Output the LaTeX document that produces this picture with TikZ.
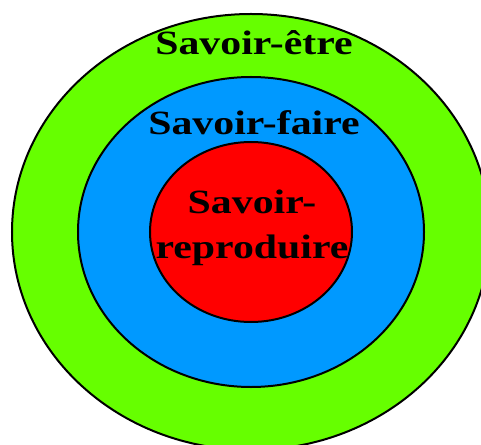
\documentclass[tikz,border=0pt]{standalone}
\usepackage{fontspec}
\newfontfamily\savoirfont{Liberation Serif}[FakeStretch=1.23]
\definecolor{etre}{RGB}{102,255,0}
\definecolor{faire}{RGB}{0,153,255}
\definecolor{repro}{RGB}{255,0,0}

\begin{document}
\begin{tikzpicture}[x=1pt, y=1pt,
  ring/.style={draw=black, line width=2pt},
  ringtext/.style={font=\savoirfont\bfseries\fontsize{34}{45}\selectfont,
                   align=center, inner sep=0pt},
]
\useasboundingbox (-251,-212) rectangle (230,232);
\clip (-251,-212) rectangle (230,232);
\fill[white] (-251,-212) rectangle (230,232);
% the three rings, outside in
\filldraw[ring, fill=etre]  (0,0) ellipse [x radius=239, y radius=218];
\filldraw[ring, fill=faire] (0,0) ellipse [x radius=173, y radius=155];
\filldraw[ring, fill=repro] (0,0) ellipse [x radius=101, y radius=90];
% ring names
\node[ringtext, anchor=base] (etre)  at (3,177) {Savoir-être};
\node[ringtext, anchor=base] (faire) at (3,97)  {Savoir-faire};
\node[ringtext] (repro) at (1,4) {Savoir-\\reproduire};
\end{tikzpicture}
\end{document}
